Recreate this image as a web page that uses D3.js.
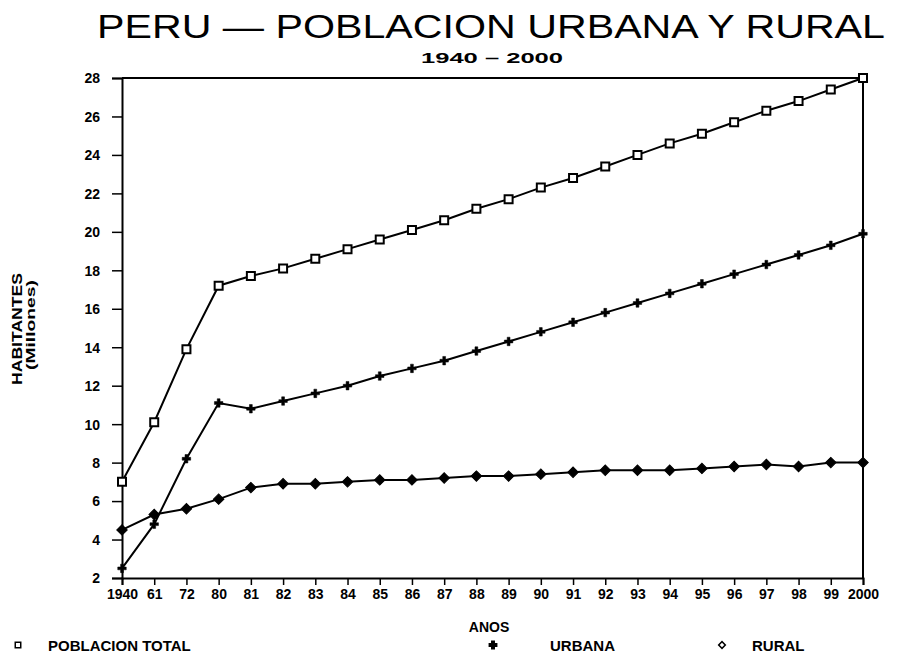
<!DOCTYPE html>
<html>
<head>
<meta charset="utf-8">
<script src="https://cdn.jsdelivr.net/npm/d3@7"></script>
<style>
  body { margin: 0; background: #fff; }
  text { fill: #000; }
</style>
</head>
<body>
<div id="chart-area"></div>
<script>
// Data (millions of inhabitants)
const years = ["1940", "61", "72", "80", "81", "82", "83", "84", "85", "86", "87", "88",
               "89", "90", "91", "92", "93", "94", "95", "96", "97", "98", "99", "2000"];
const total = [7.0, 10.1, 13.9, 17.2, 17.7, 18.1, 18.6, 19.1, 19.6, 20.1, 20.6, 21.2,
               21.7, 22.3, 22.8, 23.4, 24.0, 24.6, 25.1, 25.7, 26.3, 26.8, 27.4, 28.0];
const urbana = [2.5, 4.8, 8.2, 11.1, 10.8, 11.2, 11.6, 12.0, 12.5, 12.9, 13.3, 13.8,
                14.3, 14.8, 15.3, 15.8, 16.3, 16.8, 17.3, 17.8, 18.3, 18.8, 19.3, 19.9];
const rural = [4.5, 5.3, 5.6, 6.1, 6.7, 6.9, 6.9, 7.0, 7.1, 7.1, 7.2, 7.3,
               7.3, 7.4, 7.5, 7.6, 7.6, 7.6, 7.7, 7.8, 7.9, 7.8, 8.0, 8.0];
const yTicks = [2, 4, 6, 8, 10, 12, 14, 16, 18, 20, 22, 24, 26, 28];

// Set up SVG dimensions
const W = 910, H = 664;
const margin = { top: 78, right: 47, bottom: 86, left: 122 };
const width = W - margin.left - margin.right;
const height = H - margin.top - margin.bottom;

const root = d3.select("#chart-area")
    .append("svg")
    .attr("width", W)
    .attr("height", H);

const svg = root.append("g")
    .attr("transform", "translate(" + margin.left + "," + margin.top + ")");

// Scales
const xScale = d3.scalePoint().domain(years).range([0, width]);
const yScale = d3.scaleLinear().domain([2, 28]).range([height, 0]);

const labelFont = "Liberation Sans Narrow, Liberation Sans";

// Title
root.append("text")
    .attr("x", 491)
    .attr("y", 38)
    .attr("text-anchor", "middle")
    .attr("font-family", "Liberation Sans")
    .attr("font-size", 33)
    .attr("textLength", 788)
    .attr("lengthAdjust", "spacingAndGlyphs")
    .text("PERU \u2014 POBLACION URBANA Y RURAL");

root.append("text")
    .attr("x", 492)
    .attr("y", 63)
    .attr("text-anchor", "middle")
    .attr("font-family", "Liberation Sans")
    .attr("font-weight", "bold")
    .attr("font-size", 14)
    .attr("textLength", 142)
    .attr("lengthAdjust", "spacingAndGlyphs")
    .text("1940 \u2013 2000");

// Frame (top and right border)
svg.append("path")
    .attr("d", "M0,0H" + width + "V" + height)
    .attr("fill", "none")
    .attr("stroke", "#000")
    .attr("stroke-width", 2);

// Axes
const xAxis = d3.axisBottom(xScale).tickSize(7).tickPadding(14);
const yAxis = d3.axisLeft(yScale).tickValues(yTicks).tickSize(10).tickPadding(12);

const gx = svg.append("g")
    .attr("transform", "translate(0," + height + ")")
    .call(xAxis);
const gy = svg.append("g").call(yAxis);

[gx, gy].forEach(g => {
    g.select(".domain").attr("stroke", "#000").attr("stroke-width", 2);
    g.selectAll(".tick line").attr("stroke", "#000").attr("stroke-width", 1.5);
    g.selectAll(".tick text")
        .attr("font-family", "Liberation Sans")
        .attr("font-weight", "bold")
        .attr("font-size", 14)
        .attr("fill", "#000");
});
gx.selectAll(".tick text").attr("dy", "0");
gy.selectAll(".tick text").attr("dy", "0.35em");

// Axis labels
root.append("text")
    .attr("x", 489)
    .attr("y", 632)
    .attr("text-anchor", "middle")
    .attr("font-family", labelFont)
    .attr("font-weight", "bold")
    .attr("font-size", 14)
    .text("ANOS");

root.append("text")
    .attr("transform", "translate(22,329) rotate(-90)")
    .attr("text-anchor", "middle")
    .attr("font-family", labelFont)
    .attr("font-weight", "bold")
    .attr("font-size", 14)
    .attr("textLength", 112)
    .attr("lengthAdjust", "spacingAndGlyphs")
    .text("HABITANTES");

root.append("text")
    .attr("transform", "translate(35,325) rotate(-90)")
    .attr("text-anchor", "middle")
    .attr("font-family", labelFont)
    .attr("font-weight", "bold")
    .attr("font-size", 12)
    .attr("textLength", 90)
    .attr("lengthAdjust", "spacingAndGlyphs")
    .text("(Millones)");

// Lines and markers
const line = d3.line()
    .x((d, i) => xScale(years[i]))
    .y(d => yScale(d));

const series = [
    { name: "total", values: total, symbol: d3.symbolSquare, size: 64, fill: "#fff", rot: 0, sw: 2 },
    { name: "urbana", values: urbana, symbol: d3.symbolCross, size: 40, fill: "#000", rot: 0, sw: 0.5 },
    { name: "rural", values: rural, symbol: d3.symbolSquare, size: 55, fill: "#000", rot: 45, sw: 1 }
];

series.forEach(s => {
    svg.append("path")
        .datum(s.values)
        .attr("fill", "none")
        .attr("stroke", "#000")
        .attr("stroke-width", 2)
        .attr("d", line);

    svg.selectAll(".m-" + s.name)
        .data(s.values)
        .enter()
        .append("path")
        .attr("class", "m-" + s.name)
        .attr("transform", (d, i) => "translate(" + xScale(years[i]) + "," + yScale(d) + ") rotate(" + s.rot + ")")
        .attr("d", d3.symbol().type(s.symbol).size(s.size))
        .attr("fill", s.fill)
        .attr("stroke", "#000")
        .attr("stroke-width", s.sw);
});

// Legend
const legend = root.append("g")
    .attr("font-family", labelFont)
    .attr("font-weight", "bold")
    .attr("font-size", 15);

const legendItems = [
    { label: "POBLACION TOTAL", sx: 18, tx: 48, symbol: d3.symbolSquare, size: 30, fill: "#fff", rot: 0 },
    { label: "URBANA", sx: 493, tx: 550, symbol: d3.symbolCross, size: 30, fill: "#000", rot: 0 },
    { label: "RURAL", sx: 722, tx: 752, symbol: d3.symbolSquare, size: 22, fill: "#fff", rot: 45 }
];

legendItems.forEach(it => {
    legend.append("path")
        .attr("transform", "translate(" + it.sx + ",645) rotate(" + it.rot + ")")
        .attr("d", d3.symbol().type(it.symbol).size(it.size))
        .attr("fill", it.fill)
        .attr("stroke", "#000")
        .attr("stroke-width", 1.5);
    legend.append("text")
        .attr("x", it.tx)
        .attr("y", 651)
        .text(it.label);
});
</script>
</body>
</html>
